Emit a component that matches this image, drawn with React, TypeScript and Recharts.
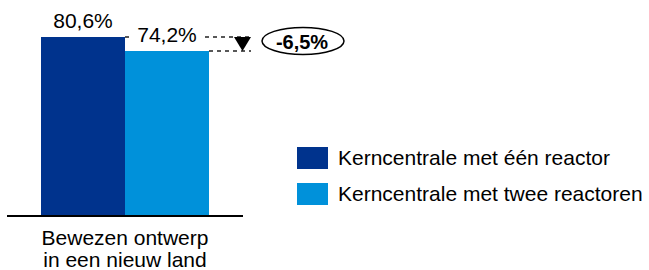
import { Bar, BarChart, XAxis, YAxis, Legend, LabelList } from "recharts"

const categoryLines = [["Bewezen ontwerp", "in een nieuw land"]]
const categories = categoryLines.map((l) => l.join(" "))
const seriesNames = ["Kerncentrale met één reactor", "Kerncentrale met twee reactoren"]
const singleReactor = [80.6]
const twinReactor = [74.2]
const differenceLabel = "-6,5%"

const DARK = "#00338D"
const LIGHT = "#0091DA"
const FONT = "Arial, 'Liberation Sans', sans-serif"

const data = categories.map((category, i) => ({
  category,
  single: singleReactor[i],
  twin: twinReactor[i],
}))

const fmt = (v: number) => v.toFixed(1).replace(".", ",") + "%"

function CategoryTick(props: any) {
  const { x, y, index } = props
  const lines = categoryLines[index] ?? [props.payload?.value]
  return (
    <text x={x} y={y} textAnchor="middle" fontSize={21} fill="#000" fontFamily={FONT}>
      {lines.map((line: string, i: number) => (
        <tspan key={i} x={x} dy={i === 0 ? 21 : 22}>
          {line}
        </tspan>
      ))}
    </text>
  )
}

// label of the second bar plus the difference annotation
function TwinLabel(props: any) {
  const vb = props.viewBox ?? props
  const x = Number(vb.x ?? props.x)
  const y = Number(vb.y ?? props.y)
  const width = Number(vb.width ?? props.width)
  const height = Number(vb.height ?? props.height)
  const i = props.index ?? 0
  const bottom = y + height
  const y1 = bottom - height * (singleReactor[i] / twinReactor[i])
  const right = x + width
  const end = right + 42
  const cx = x + width / 2
  return (
    <g>
      <line x1={x} y1={y1} x2={end} y2={y1} stroke="#222" strokeWidth={1.5} strokeDasharray="4 4" />
      <line x1={right} y1={y} x2={end} y2={y} stroke="#222" strokeWidth={1.5} strokeDasharray="4 4" />
      <rect x={cx - 34} y={y - 28} width={68} height={20} fill="#fff" />
      <text x={cx} y={y - 9} textAnchor="middle" fontSize={21} fill="#000" fontFamily={FONT}>
        {fmt(Number(props.value))}
      </text>
      <polygon
        points={`${right + 25},${y1} ${right + 42},${y1} ${right + 33.5},${y}`}
        fill="#000"
      />
      <ellipse cx={right + 94} cy={y1 + 4} rx={41} ry={13.5} fill="#fff" stroke="#000" strokeWidth={1.5} />
      <text
        x={right + 93}
        y={y1 + 12}
        textAnchor="middle"
        fontSize={20}
        fontWeight="bold"
        fill="#000"
        fontFamily={FONT}
      >
        {differenceLabel}
      </text>
    </g>
  )
}

function LegendBox(props: any) {
  const payload = [...(props.payload ?? [])].sort(
    (a: any, b: any) => seriesNames.indexOf(a.value) - seriesNames.indexOf(b.value)
  )
  return (
    <div style={{ fontFamily: FONT, fontSize: 21, color: "#000" }}>
      {payload.map((p: any, i: number) => (
        <div key={i} style={{ display: "flex", alignItems: "center", height: 22, marginBottom: 14 }}>
          <div style={{ width: 31, height: 22, background: p.color, marginRight: 10 }} />
          <span style={{ whiteSpace: "nowrap" }}>{p.value}</span>
        </div>
      ))}
    </div>
  )
}

export default function App() {
  return (
    <div style={{ position: "absolute", left: 0, top: 0, width: 649, height: 270, background: "#fff" }}>
      <BarChart
        width={649}
        height={270}
        data={data}
        margin={{ top: 16, right: 406, left: 7, bottom: 0 }}
        barCategoryGap={34}
        barGap={0}
      >
        <XAxis
          dataKey="category"
          axisLine={{ stroke: "#000", strokeWidth: 2 }}
          tickLine={false}
          interval={0}
          height={54}
          tick={<CategoryTick />}
        />
        <YAxis hide domain={[0, 90]} />
        <Legend
          layout="horizontal"
          verticalAlign="middle"
          align="center"
          itemSorter={null}
          content={<LegendBox />}
          wrapperStyle={{ left: 297, top: 147, width: 350, height: 60 }}
        />
        <Bar dataKey="single" name={seriesNames[0]} fill={DARK} isAnimationActive={false}>
          <LabelList
            dataKey="single"
            position="top"
            offset={9}
            formatter={(v: any) => fmt(Number(v))}
            fill="#000"
            fontSize={21}
            fontFamily={FONT}
          />
        </Bar>
        <Bar dataKey="twin" name={seriesNames[1]} fill={LIGHT} isAnimationActive={false}>
          <LabelList dataKey="twin" content={<TwinLabel />} />
        </Bar>
      </BarChart>
    </div>
  )
}
